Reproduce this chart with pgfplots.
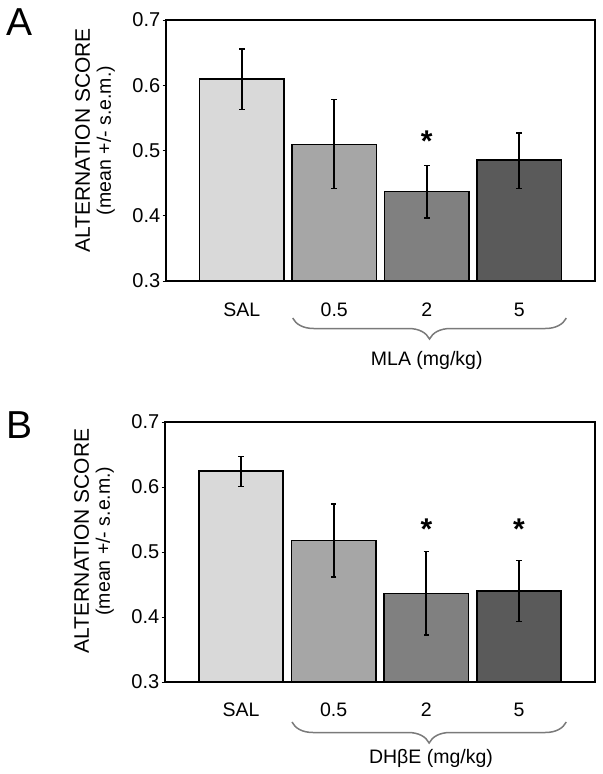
\documentclass[border=0pt]{standalone}
\usepackage{pgfplots}
\pgfplotsset{compat=1.18}
\usepackage{fontspec}
\setmainfont{Liberation Sans}
\usetikzlibrary{decorations.pathreplacing}
\definecolor{cSAL}{HTML}{D9D9D9}
\definecolor{cHalf}{HTML}{A6A6A6}
\definecolor{cTwo}{HTML}{808080}
\definecolor{cFive}{HTML}{5A5A5A}
\definecolor{braceg}{HTML}{7A7A7A}
\pgfplotsset{
  panel/.style={
    scale only axis, width=429bp, height=261bp,
    xmin=-0.82, xmax=3.82, ymin=0.3, ymax=0.7,
    ybar, bar width=84.4bp, bar shift=0pt,
    ytick={0.3,0.4,0.5,0.6,0.7},
    xtick={0,1,2,3}, xticklabels={SAL,0.5,2,5},
    ytick pos=left,
    /pgf/number format/assume math mode=true,
    /pgf/number format/fixed, /pgf/number format/precision=1,
    x tick style={draw=none},
    y tick style={black, line width=1bp},
    tick align=outside, major tick length=3.5bp,
    axis line style={line width=1.8bp},
    yticklabel style={font=\fontsize{20bp}{22bp}\selectfont, inner sep=2bp},
    clip mode=individual,
    every axis plot/.append style={draw=black, line width=1.6bp,
      error bars/y dir=both, error bars/y explicit,
      error bars/error bar style={line width=1.7bp, black},
      error bars/error mark options={rotate=90, mark size=2.8bp, line width=1.7bp, black}},
  }
}
\begin{document}
\begin{tikzpicture}
\path[use as bounding box] (0,0) rectangle (603bp,-774bp);
% Panel A
\node[anchor=base west, inner sep=0, font=\fontsize{39bp}{39bp}\selectfont] at (6bp,-35bp) {A};
\begin{axis}[panel, at={(166bp,-281bp)}, anchor=south west,
  xticklabel style={font=\fontsize{19.5bp}{21bp}\selectfont, anchor=base, yshift=-32bp}]
\addplot[fill=cSAL]  coordinates {(0,0.610) += (0,0.046) -= (0,0.047)};
\addplot[fill=cHalf] coordinates {(1,0.509) += (0,0.069) -= (0,0.067)};
\addplot[fill=cTwo]  coordinates {(2,0.437) += (0,0.040) -= (0,0.040)};
\addplot[fill=cFive] coordinates {(3,0.485) += (0,0.042) -= (0,0.043)};
\node[anchor=north, inner sep=0, font=\fontsize{30bp}{30bp}\selectfont\bfseries] at (axis cs:2,0.531) {*};
\node[rotate=90, align=center, font=\fontsize{21bp}{21bp}\selectfont] at ([xshift=-71bp, yshift=10bp]rel axis cs:0,0.5) {ALTERNATION SCORE\\{\fontsize{19.5bp}{21bp}\selectfont(mean +/- s.e.m.)}};
\draw[braceg, line width=1.5bp, decorate, decoration={brace, mirror, amplitude=21bp}] ([yshift=-37bp]axis cs:0.55,0.3) -- ([yshift=-37bp]axis cs:3.51,0.3);
\node[anchor=base, inner sep=0, font=\fontsize{19.5bp}{21bp}\selectfont] at ([yshift=-84bp]axis cs:2,0.3) {MLA (mg/kg)};
\end{axis}
% Panel B
\node[anchor=base west, inner sep=0, font=\fontsize{39bp}{39bp}\selectfont] at (6bp,-438bp) {B};
\begin{axis}[panel, at={(165bp,-682bp)}, anchor=south west, height=260bp, width=430bp,
  xticklabel style={font=\fontsize{19.5bp}{21bp}\selectfont, anchor=base, yshift=-31bp}]
\addplot[fill=cSAL]  coordinates {(0,0.625) += (0,0.022) -= (0,0.024)};
\addplot[fill=cHalf] coordinates {(1,0.518) += (0,0.056) -= (0,0.056)};
\addplot[fill=cTwo]  coordinates {(2,0.436) += (0,0.065) -= (0,0.064)};
\addplot[fill=cFive] coordinates {(3,0.440) += (0,0.047) -= (0,0.047)};
\node[anchor=north, inner sep=0, font=\fontsize{30bp}{30bp}\selectfont\bfseries] at (axis cs:2,0.552) {*};
\node[anchor=north, inner sep=0, font=\fontsize{30bp}{30bp}\selectfont\bfseries] at (axis cs:3,0.552) {*};
\node[rotate=90, align=center, font=\fontsize{21bp}{21bp}\selectfont] at ([xshift=-71bp, yshift=11bp]rel axis cs:0,0.5) {ALTERNATION SCORE\\{\fontsize{19.5bp}{21bp}\selectfont(mean +/- s.e.m.)}};
\draw[braceg, line width=1.5bp, decorate, decoration={brace, mirror, amplitude=21bp}] ([yshift=-40bp]axis cs:0.55,0.3) -- ([yshift=-40bp]axis cs:3.51,0.3);
\node[anchor=base, inner sep=0, font=\fontsize{19.5bp}{21bp}\selectfont] at ([yshift=-81bp]axis cs:2.05,0.3) {DHβE (mg/kg)};
\end{axis}
\end{tikzpicture}
\end{document}
